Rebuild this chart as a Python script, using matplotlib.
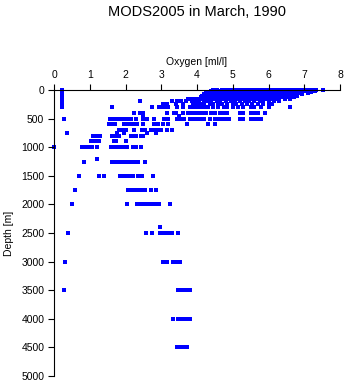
import numpy as np
import matplotlib
matplotlib.use("Agg")
import matplotlib.pyplot as plt

plt.rcParams['font.family'] = ['Liberation Sans', 'DejaVu Sans']

# oxygen readings [ml/l] at each standard depth [m]
oxy_0 = [0.22, 4.45, 4.55, 4.7, 4.8, 4.9, 5.0, 5.05, 5.15, 5.25, 5.35, 5.45, 5.55, 5.65, 5.75,
         5.85, 5.95, 6.05, 6.15, 6.25, 6.35, 6.45, 6.55, 6.65, 6.75, 6.85, 6.95, 7.05, 7.15,
         7.25, 7.32, 7.53]
oxy_10 = [0.22, 4.5, 4.65, 4.8, 4.95, 5.1, 5.2, 5.3, 5.4, 5.5, 5.6, 5.7, 5.8, 5.9, 6.0, 6.1,
          6.2, 6.3, 6.4, 6.5, 6.6, 6.7, 6.8, 6.9, 7.0, 7.1, 7.2, 7.3]
oxy_20 = [0.22, 4.4, 4.6, 4.75, 4.85, 5.0, 5.1, 5.25, 5.35, 5.5, 5.6, 5.75, 5.85, 6.0, 6.1,
          6.25, 6.35, 6.5, 6.6, 6.75, 6.85, 7.0, 7.1, 7.25]
oxy_30 = [0.22, 4.3, 4.5, 4.65, 4.8, 4.9, 5.05, 5.2, 5.3, 5.45, 5.55, 5.7, 5.8, 5.95, 6.05,
          6.2, 6.3, 6.45, 6.55, 6.7, 6.8, 6.95, 7.1, 7.2]
oxy_50 = [0.22, 4.25, 4.4, 4.55, 4.7, 4.85, 4.95, 5.1, 5.25, 5.35, 5.5, 5.6, 5.75, 5.85, 5.95,
          6.1, 6.2, 6.35, 6.5, 6.6, 6.7, 6.85, 6.95, 7.1]
oxy_75 = [0.22, 4.2, 4.35, 4.5, 4.6, 4.75, 4.9, 5.0, 5.15, 5.3, 5.4, 5.5, 5.65, 5.8, 5.9,
          6.05, 6.15, 6.3, 6.4, 6.55, 6.7, 6.8, 6.95]
oxy_100 = [0.22, 4.15, 4.3, 4.45, 4.55, 4.7, 4.85, 4.95, 5.1, 5.2, 5.35, 5.5, 5.6, 5.75, 5.85,
           6.0, 6.1, 6.25, 6.4, 6.5, 6.65, 6.8]
oxy_125 = [0.22, 4.1, 4.25, 4.35, 4.5, 4.65, 4.8, 4.9, 5.05, 5.15, 5.3, 5.45, 5.55, 5.7, 5.85,
           5.95, 6.1, 6.2, 6.35, 6.5, 6.6, 6.7]
oxy_150 = [0.22, 3.75, 3.8, 3.9, 4.0, 4.1, 4.2, 4.35, 4.45, 4.6, 4.75, 4.85, 5.0, 5.15, 5.25,
           5.4, 5.5, 5.65, 5.8, 5.9, 6.05, 6.2, 6.3, 6.45, 6.6]
oxy_200 = [0.22, 2.4, 3.3, 3.45, 3.55, 3.7, 3.85, 3.95, 4.05, 4.2, 4.3, 4.4, 4.55, 4.65, 4.8,
           4.95, 5.05, 5.2, 5.35, 5.45, 5.6, 5.75, 5.85, 6.0, 6.15, 6.3]
oxy_250 = [0.22, 3.05, 3.15, 3.4, 3.6, 3.9, 4.0, 4.1, 4.2, 4.35, 4.45, 4.6, 4.7, 4.85, 5.0,
           5.1, 5.25, 5.4, 5.55, 5.7, 5.85, 6.0, 6.1]
oxy_300 = [0.22, 1.63, 2.75, 2.95, 3.0, 3.1, 3.2, 3.45, 3.6, 3.8, 3.9, 4.0, 4.1, 4.2, 4.3,
           4.45, 4.6, 4.75, 4.85, 5.0, 5.15, 5.3, 5.5, 5.6, 5.8, 6.0, 6.6]
oxy_400 = [2.24, 2.4, 2.5, 3.15, 3.35, 3.4, 3.6, 3.75, 3.85, 3.95, 4.05, 4.15, 4.25, 4.4, 4.5,
           4.65, 4.75, 4.85, 5.2, 5.3, 5.5, 5.6, 5.7, 5.9]
oxy_450 = [2.5, 3.5]
oxy_500 = [0.28, 1.57, 1.65, 1.76, 1.87, 1.95, 2.05, 2.15, 2.3, 2.5, 2.6, 2.8, 3.08, 3.2, 3.45,
           3.55, 3.65, 3.8, 3.9, 4.0, 4.1, 4.2, 4.35, 4.5, 4.6, 4.7, 4.8, 4.9, 5.2, 5.3, 5.5,
           5.6, 5.7, 5.8]
oxy_600 = [1.55, 1.62, 1.7, 1.96, 2.05, 2.15, 2.25, 2.32, 2.5, 2.8, 2.9, 3.05, 3.2, 3.73, 4.3, 4.5]
oxy_700 = [1.82, 1.9, 2.0, 2.24, 2.45, 2.55, 2.7, 2.8, 2.9, 3.0, 3.15, 3.3]
oxy_750 = [0.37, 1.75, 1.95, 2.6, 2.85]
oxy_800 = [1.1, 1.18, 1.25, 1.3, 1.62, 1.7, 1.78, 1.82, 2.15, 2.22, 2.3, 2.43, 2.5]
oxy_900 = [1.03, 1.1, 1.18, 1.26, 1.68, 1.73, 2.0]
oxy_1000 = [0.0, 0.79, 0.85, 0.95, 1.05, 1.2, 1.6, 1.68, 1.75, 1.82, 1.9, 1.97, 2.04, 2.2, 2.3, 2.43]
oxy_1200 = [1.2]
oxy_1250 = [0.84, 1.62, 1.7, 1.78, 1.85, 1.92, 1.96, 2.04, 2.12, 2.24, 2.35, 2.55]
oxy_1500 = [0.7, 1.26, 1.4, 1.85, 1.92, 1.98, 2.05, 2.1, 2.2, 2.35, 2.45, 2.77]
oxy_1750 = [0.6, 2.07, 2.12, 2.18, 2.25, 2.3, 2.38, 2.45, 2.55, 2.7, 2.85]
oxy_2000 = [0.51, 2.04, 2.33, 2.4, 2.48, 2.55, 2.62, 2.7, 2.78, 2.85, 2.94, 3.24]
oxy_2400 = [2.97]
oxy_2500 = [0.4, 2.58, 2.74, 2.97, 3.03, 3.1, 3.18, 3.3, 3.47]
oxy_3000 = [0.31, 3.05, 3.16, 3.33, 3.4, 3.45, 3.52]
oxy_3500 = [0.28, 3.47, 3.55, 3.62, 3.7, 3.8]
oxy_4000 = [3.33, 3.47, 3.55, 3.62, 3.7, 3.8]
oxy_4500 = [3.44, 3.52, 3.62, 3.72]

levels = {0: oxy_0, 10: oxy_10, 20: oxy_20, 30: oxy_30, 50: oxy_50, 75: oxy_75,
          100: oxy_100, 125: oxy_125, 150: oxy_150, 200: oxy_200, 250: oxy_250,
          300: oxy_300, 400: oxy_400, 450: oxy_450, 500: oxy_500, 600: oxy_600,
          700: oxy_700, 750: oxy_750, 800: oxy_800, 900: oxy_900, 1000: oxy_1000,
          1200: oxy_1200, 1250: oxy_1250, 1500: oxy_1500, 1750: oxy_1750,
          2000: oxy_2000, 2400: oxy_2400, 2500: oxy_2500, 3000: oxy_3000,
          3500: oxy_3500, 4000: oxy_4000, 4500: oxy_4500}

oxy = np.concatenate([np.array(v, float) for v in levels.values()])
depth = np.concatenate([np.full(len(v), d, float) for d, v in levels.items()])

fig = plt.figure(figsize=(3.45, 3.84), dpi=100)
ax = fig.add_axes([54 / 345, 1 - 376 / 384, (340 - 54) / 345, (376 - 90) / 384])

ax.scatter(oxy, depth, s=5, marker='s', color='#0000ff', linewidths=0, clip_on=False)

ax.set_xlim(0, 8)
ax.set_ylim(5000, 0)
ax.set_xticks(range(0, 9))
ax.set_yticks(range(0, 5001, 500))
ax.xaxis.tick_top()
ax.xaxis.set_label_position('top')
ax.spines['right'].set_visible(False)
ax.spines['bottom'].set_visible(False)
for s in ('left', 'top'):
    ax.spines[s].set_linewidth(0.8)
ax.tick_params(direction='out', length=4, width=0.8, labelsize=7.5, pad=3)

ax.set_xlabel("Oxygen [ml/l]", fontsize=7.5, labelpad=4)
ax.set_ylabel("Depth [m]", fontsize=7.5, labelpad=5)
fig.text(197 / 345, 1 - 12 / 384, "MODS2005 in March, 1990", ha='center', va='center', fontsize=10.5)

fig.savefig("out.png", dpi=100)
